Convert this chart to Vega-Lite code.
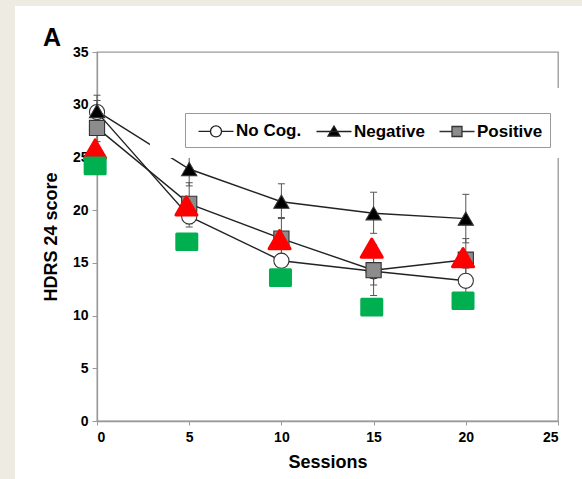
{
  "$schema": "https://vega.github.io/schema/vega-lite/v6.json",
  "width": 461,
  "height": 369,
  "autosize": "none",
  "padding": {"left": 97, "top": 52, "right": 24, "bottom": 58},
  "background": "white",
  "title": {"text": "A", "anchor": "start", "frame": "group", "dx": -54, "dy": 72, "offset": 0, "baseline": "alphabetic", "fontSize": 25, "fontWeight": "bold", "font": "Liberation Sans", "color": "black"},
  "config": {
    "view": {"stroke": "#999", "strokeWidth": 1.3},
    "axis": {"labelFont": "Liberation Sans", "labelFontWeight": "bold", "labelFontSize": 14, "labelColor": "black", "titleFont": "Liberation Sans", "titleFontWeight": "bold", "titleColor": "black", "domainColor": "#999", "domainWidth": 1.3, "tickColor": "#999", "tickSize": 5, "grid": false, "labelPadding": 4},
    "legend": {"labelFont": "Liberation Sans", "labelFontWeight": "bold", "labelFontSize": 17, "labelColor": "black", "symbolSize": 400, "labelOffset": 9, "columnPadding": 11, "padding": 7, "strokeColor": "#999", "fillColor": "white", "symbolStrokeColor": "#222", "symbolStrokeWidth": 1.3, "titleOrient": "left", "titlePadding": 13, "titleFontSize": 1}
  },
  "datasets": {
    "main": [
      {"group": "No Cog.", "session": 0, "mean": 29.3, "lo": 28.2, "hi": 30.4},
      {"group": "No Cog.", "session": 5, "mean": 19.4, "lo": 18.4, "hi": 20.4},
      {"group": "No Cog.", "session": 10, "mean": 15.2, "lo": 13.9, "hi": 16.5},
      {"group": "No Cog.", "session": 15, "mean": 14.2, "lo": 12.9, "hi": 15.5},
      {"group": "No Cog.", "session": 20, "mean": 13.3, "lo": 12.1, "hi": 14.5},
      {"group": "Negative", "session": 0, "mean": 29.4, "lo": 27.8, "hi": 30.9},
      {"group": "Negative", "session": 5, "mean": 23.9, "lo": 22.3, "hi": 25.5},
      {"group": "Negative", "session": 10, "mean": 20.8, "lo": 19.2, "hi": 22.5},
      {"group": "Negative", "session": 15, "mean": 19.7, "lo": 17.8, "hi": 21.7},
      {"group": "Negative", "session": 20, "mean": 19.2, "lo": 16.9, "hi": 21.5},
      {"group": "Positive", "session": 0, "mean": 27.8, "lo": 26.5, "hi": 29.1},
      {"group": "Positive", "session": 5, "mean": 20.6, "lo": 18.7, "hi": 22.6},
      {"group": "Positive", "session": 10, "mean": 17.3, "lo": 15.4, "hi": 19.3},
      {"group": "Positive", "session": 15, "mean": 14.3, "lo": 11.9, "hi": 16.7},
      {"group": "Positive", "session": 20, "mean": 15.3, "lo": 13.3, "hi": 17.3}
    ],
    "extra": [
      {"kind": "red", "session": -0.1, "value": 25.8},
      {"kind": "red", "session": 4.85, "value": 20.4},
      {"kind": "red", "session": 9.9, "value": 17.2},
      {"kind": "red", "session": 14.9, "value": 16.4},
      {"kind": "red", "session": 19.85, "value": 15.5},
      {"kind": "green", "session": -0.1, "value": 24.2},
      {"kind": "green", "session": 4.87, "value": 17.0},
      {"kind": "green", "session": 9.95, "value": 13.6},
      {"kind": "green", "session": 14.9, "value": 10.8},
      {"kind": "green", "session": 19.85, "value": 11.4}
    ],
    "panel": [{"part": "frame"}]
  },
  "data": {"name": "main"},
  "encoding": {
    "x": {"field": "session", "type": "quantitative", "scale": {"domain": [0, 25], "nice": false, "zero": false}, "axis": {"values": [0, 5, 10, 15, 20, 25], "title": "Sessions", "titleFontSize": 18, "titlePadding": 9, "tickSize": 4, "labelPadding": 5}},
    "y": {"field": "mean", "type": "quantitative", "scale": {"domain": [0, 35], "nice": false, "zero": false}, "axis": {"values": [0, 5, 10, 15, 20, 25, 30, 35], "title": "HDRS 24 score", "titleFontSize": 18, "titlePadding": 12}}
  },
  "layer": [
    {
      "data": {"name": "panel"},
      "mark": {"type": "rect", "fill": "#eeebe2", "opacity": 1, "clip": false},
      "encoding": {
        "x": {"value": {"expr": "scale('x', -5.3)"}},
        "x2": {"value": {"expr": "scale('x', -4.447)"}},
        "y": {"value": {"expr": "scale('y', -6)"}},
        "y2": {"value": {"expr": "scale('y', 40)"}}
      }
    },
    {
      "data": {"name": "panel"},
      "mark": {"type": "rect", "fill": "#eeebe2", "opacity": 1, "clip": false},
      "encoding": {
        "x": {"value": {"expr": "scale('x', -5.3)"}},
        "x2": {"value": {"expr": "scale('x', 26.4)"}},
        "y": {"value": {"expr": "scale('y', 39.36)"}},
        "y2": {"value": {"expr": "scale('y', 40)"}}
      }
    },
    {
      "mark": {"type": "line", "color": "#222", "strokeWidth": 1.4},
      "encoding": {"detail": {"field": "group"}, "order": {"field": "session"}}
    },
    {
      "mark": {"type": "rule", "color": "#555", "strokeWidth": 1},
      "encoding": {"y": {"field": "lo", "type": "quantitative"}, "y2": {"field": "hi"}}
    },
    {
      "mark": {"type": "point", "shape": "stroke", "size": 49, "stroke": "#555", "strokeWidth": 1, "filled": false, "opacity": 1},
      "encoding": {"y": {"field": "hi", "type": "quantitative"}}
    },
    {
      "mark": {"type": "point", "shape": "stroke", "size": 49, "stroke": "#555", "strokeWidth": 1, "filled": false, "opacity": 1},
      "encoding": {"y": {"field": "lo", "type": "quantitative"}}
    },
    {
      "mark": {"type": "point", "filled": true, "size": 230, "stroke": "#333", "strokeWidth": 1.1, "opacity": 1},
      "encoding": {
        "shape": {"field": "group", "type": "nominal", "scale": {"domain": ["No Cog.", "Negative", "Positive"], "range": ["circle", "triangle-up", "square"]}, "legend": null},
        "fill": {"field": "group", "type": "nominal", "scale": {"domain": ["No Cog.", "Negative", "Positive"], "range": ["white", "black", "#8c8c8c"]}, "legend": null}
      }
    },
    {
      "data": {"name": "panel"},
      "mark": {"type": "rect", "fill": "white", "opacity": 1, "clip": false},
      "encoding": {
        "x": {"value": {"expr": "scale('x', 2.87)"}},
        "x2": {"value": {"expr": "scale('x', 26.4)"}},
        "y": {"value": {"expr": "scale('y', 31.58)"}},
        "y2": {"value": {"expr": "scale('y', 24.94)"}}
      }
    },
    {
      "data": {"name": "extra"},
      "transform": [{"filter": "datum.kind === 'red'"}],
      "mark": {"type": "point", "shape": "triangle-up", "size": 440, "filled": true, "color": "#ff0000", "stroke": "#ff0000", "strokeWidth": 3, "strokeJoin": "round", "opacity": 1},
      "encoding": {"y": {"field": "value", "type": "quantitative"}}
    },
    {
      "data": {"name": "extra"},
      "transform": [{"filter": "datum.kind === 'green'"}],
      "mark": {"type": "point", "shape": "M-1,-0.78H1V0.78H-1Z", "size": 400, "filled": true, "color": "#00b050", "stroke": "#00b050", "strokeWidth": 3, "strokeJoin": "round", "opacity": 1},
      "encoding": {"y": {"field": "value", "type": "quantitative"}}
    },
    {
      "transform": [{"filter": "false"}],
      "mark": {"type": "point", "filled": true, "size": 400, "strokeWidth": 1.3, "opacity": 1},
      "encoding": {
        "shape": {"field": "group", "type": "nominal", "scale": {"domain": ["No Cog.", "Negative", "Positive"], "range": ["M-1.75,0H-0.55M0.55,0H1.75M-0.55,0A0.55,0.55 0 1,0 0.55,0A0.55,0.55 0 1,0 -0.55,0Z", "M-1.75,0H1.75M0,-0.55L0.6,0.45L-0.6,0.45Z", "M-1.75,0H-0.5M0.5,0H1.75M-0.5,-0.5H0.5V0.5H-0.5Z"]}, "legend": {"orient": "none", "legendX": 88, "legendY": 61, "direction": "horizontal", "title": " "}},
        "fill": {"field": "group", "type": "nominal", "scale": {"domain": ["No Cog.", "Negative", "Positive"], "range": ["white", "black", "#8c8c8c"]}, "legend": {"orient": "none", "legendX": 88, "legendY": 61, "direction": "horizontal", "title": " "}},
        "stroke": {"field": "group", "type": "nominal", "scale": {"domain": ["No Cog.", "Negative", "Positive"], "range": ["#222", "#222", "#333"]}, "legend": {"orient": "none", "legendX": 88, "legendY": 61, "direction": "horizontal", "title": " "}}
      }
    }
  ],
  "resolve": {"scale": {"shape": "independent", "fill": "independent", "stroke": "independent"}}
}
